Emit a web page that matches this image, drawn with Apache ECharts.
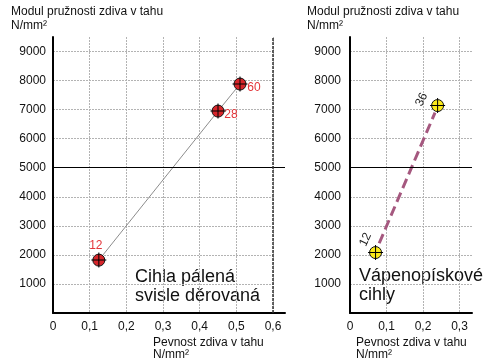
<!DOCTYPE html>
<html>
<head>
<meta charset="utf-8">
<script src="https://cdn.jsdelivr.net/npm/echarts@6/dist/echarts.min.js"></script>
<style>html,body{margin:0;padding:0;background:#fff}#c{width:491px;height:361px}</style>
</head>
<body>
<div id="c"></div>
<script>
// ---- data ----
const leftLabels = ['12', '28', '60'];
const leftX = [0.125, 0.45, 0.51];
const leftY = [1820, 6950, 7880];
const rightLabels = ['12', '36'];
const rightX = [0.07, 0.24];
const rightY = [2080, 7140];
const rightTrendX = [0.080, 0.233];
const rightTrendY = [2400, 6900];
const yTitle = ['Modul pružnosti zdiva v tahu', 'N/mm²'];
const xTitle = ['Pevnost zdiva v tahu', 'N/mm²'];
const leftNote = ['Cihla pálená', 'svisle děrovaná'];
const rightNote = ['Vápenopískové', 'cihly'];
const yMax = 9500, yStep = 1000, refY = 5000;
const leftXMax = 0.6, rightXMax = 0.3, xStep = 0.1;

const FONT = '"Liberation Sans", Arial, sans-serif';
const GRIDC = '#b3b3b3';
const crossPath = 'path://M7,0L8,0L8,15L7,15Z M0,7L15,7L15,8L0,8Z';
const fmt = v => String(Math.round(v * 10) / 10).replace('.', ',');

const leftOffsets = [[-3, -14], [13, 4], [14, 4]];
// offsets are in the rotated label frame
const rightOffsets = [[7.5, -14.5], [-1.3, -17]];

const pts = (xs, ys) => xs.map((x, i) => [x, ys[i]]);

const chart = echarts.init(document.getElementById('c'), null, {renderer: 'canvas'});

const ySplitColors = [];
for (let v = 0; v <= yMax; v += yStep) ySplitColors.push(v === 0 || v === refY ? 'transparent' : GRIDC);
ySplitColors.push('transparent');

const grids = [
  {left: 53, top: 37, width: 220, height: 276},
  {left: 53, top: 37, width: 232, height: 276},
  {left: 350, top: 37, width: 122, height: 276},
  {left: 350, top: 37, width: 109.5, height: 276}
];

function yAxis(gi, show) {
  return {
    type: 'value', gridIndex: gi, min: 0, max: yMax, interval: yStep, show: show,
    axisLine: {show: true, lineStyle: {color: '#000', width: 2}},
    axisTick: {show: false},
    axisLabel: {show: true, margin: gi === 0 ? 7 : 9, color: '#111', fontSize: 12, fontFamily: FONT,
      showMinLabel: false, showMaxLabel: false, formatter: v => String(v)},
    splitLine: {show: show, lineStyle: {color: ySplitColors, type: [2, 1], width: 1}}
  };
}

function xLabelAxis(gi, max) {
  const n = Math.round(max / xStep);
  const cols = [];
  for (let i = 0; i <= n; i++) cols.push(i === 0 ? 'transparent' : GRIDC);
  cols.push('transparent');
  return {
    type: 'value', gridIndex: gi, min: 0, max: max, interval: xStep,
    axisLine: {show: false}, axisTick: {show: false},
    axisLabel: {margin: 8, color: '#111', fontSize: 12, fontFamily: FONT, formatter: fmt},
    splitLine: {show: true, lineStyle: {color: cols, type: [2, 1], width: 1}}
  };
}

function xLineAxis(gi, max) {
  return {
    type: 'value', gridIndex: gi, min: 0, max: max,
    axisLine: {show: true, lineStyle: {color: '#000', width: 2}},
    axisTick: {show: false}, axisLabel: {show: false}, splitLine: {show: false}
  };
}

const refLine = {
  silent: true, symbol: 'none', label: {show: false},
  lineStyle: {color: '#000', width: 1.2, type: 'solid'},
  data: [{yAxis: refY}]
};

function textBlock(lines, left, top, size, lh) {
  return {type: 'text', left: left, top: top, silent: true,
    style: {text: lines.join('\n'), font: size + 'px ' + FONT, lineHeight: lh, fill: '#111'}};
}

const option = {
  animation: false,
  grid: grids,
  xAxis: [
    xLabelAxis(0, leftXMax),
    xLineAxis(1, leftXMax * 232 / 220),
    xLineAxis(2, rightXMax * 122 / 109.5),
    xLabelAxis(3, rightXMax)
  ],
  yAxis: [yAxis(0, true), yAxis(1, false), yAxis(2, true), yAxis(3, false)],
  graphic: [
    textBlock(yTitle, 11, 5, 12, 14),
    textBlock(yTitle, 307, 5, 12, 14),
    textBlock(xTitle, 153, 337, 12, 12),
    textBlock(xTitle, 356, 337, 12, 12),
    textBlock(leftNote, 135, 268, 18, 19),
    textBlock(rightNote, 359, 267, 18, 19)
  ],
  series: [
    {
      type: 'line', xAxisIndex: 1, yAxisIndex: 1, data: [], silent: true,
      markLine: refLine
    },
    {
      type: 'line', xAxisIndex: 0, yAxisIndex: 0, data: pts(leftX, leftY),
      symbol: 'none', lineStyle: {color: '#8c8c8c', width: 1}, silent: true, z: 3,
      markLine: {silent: true, symbol: 'none', label: {show: false},
        lineStyle: {color: '#333', width: 1.5, type: [3, 1]}, data: [{xAxis: leftXMax}]}
    },
    {
      type: 'scatter', xAxisIndex: 0, yAxisIndex: 0, z: 4, silent: true,
      symbol: 'circle', symbolSize: 12,
      itemStyle: {color: '#d6262b', borderColor: '#111', borderWidth: 1, opacity: 1},
      data: pts(leftX, leftY).map((p, i) => ({
        value: p,
        label: {show: true, formatter: leftLabels[i], position: 'inside', offset: leftOffsets[i],
          color: '#e3353a', fontSize: 12, fontFamily: FONT}
      }))
    },
    {
      type: 'scatter', xAxisIndex: 0, yAxisIndex: 0, z: 5, silent: true,
      symbol: crossPath, symbolSize: 15, itemStyle: {color: '#000', opacity: 1},
      data: pts(leftX, leftY)
    },
    {
      type: 'line', xAxisIndex: 2, yAxisIndex: 2, data: pts(rightTrendX, rightTrendY),
      symbol: 'none', lineStyle: {color: '#a5587f', width: 3, type: [10, 5]}, silent: true, z: 3,
      markLine: refLine
    },
    {
      type: 'scatter', xAxisIndex: 2, yAxisIndex: 2, z: 4, silent: true,
      symbol: 'circle', symbolSize: 12,
      itemStyle: {color: '#fbe91a', borderColor: '#111', borderWidth: 1, opacity: 1},
      data: pts(rightX, rightY).map((p, i) => ({
        value: p,
        label: {show: true, formatter: rightLabels[i], position: 'inside', offset: rightOffsets[i],
          rotate: 65, color: '#222', fontSize: 12, fontFamily: FONT}
      }))
    },
    {
      type: 'scatter', xAxisIndex: 2, yAxisIndex: 2, z: 5, silent: true,
      symbol: crossPath, symbolSize: 15, itemStyle: {color: '#000', opacity: 1},
      data: pts(rightX, rightY)
    }
  ]
};
chart.setOption(option);
</script>
</body>
</html>
